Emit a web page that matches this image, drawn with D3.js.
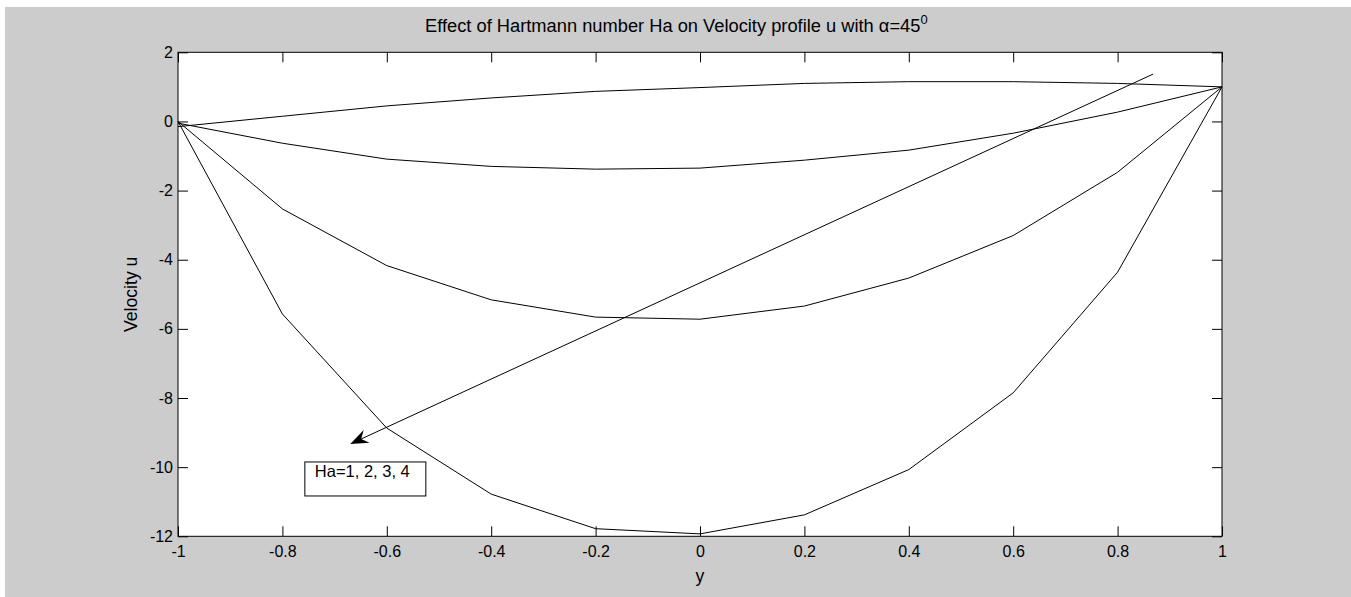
<!DOCTYPE html>
<html>
<head>
<meta charset="utf-8">
<script src="https://cdn.jsdelivr.net/npm/d3@7"></script>
<style>
  body { margin: 0; background: #ffffff; }
  svg { display: block; }
  text { font-family: "Liberation Sans", Arial, Helvetica, sans-serif; fill: #000; }
</style>
</head>
<body>
<script>
// Channel coordinate y and velocity u for Hartmann numbers Ha = 1..4
const yPos  = [-1, -0.8, -0.6, -0.4, -0.2, 0, 0.2, 0.4, 0.6, 0.8, 1];
const uHa1  = [-0.15, 0.15, 0.45, 0.68, 0.87, 0.98, 1.10, 1.15, 1.15, 1.10, 1.0];
const uHa2  = [-0.05, -0.63, -1.09, -1.30, -1.38, -1.35, -1.12, -0.83, -0.34, 0.27, 1.0];
const uHa3  = [0, -2.53, -4.17, -5.16, -5.66, -5.72, -5.34, -4.53, -3.30, -1.47, 1.0];
const uHa4  = [0, -5.57, -8.87, -10.78, -11.78, -11.93, -11.38, -10.07, -7.85, -4.36, 1.0];
const seriesList = [uHa1, uHa2, uHa3, uHa4];

const xTicks = [-1, -0.8, -0.6, -0.4, -0.2, 0, 0.2, 0.4, 0.6, 0.8, 1];
const yTicks = [2, 0, -2, -4, -6, -8, -10, -12];

// Annotation: arrow across the curves and its label box
const arrowFrom = [0.868, 1.37];
const arrowTo   = [-0.670, -9.33];
const noteAt    = [-0.757, -9.85];
const noteText  = "Ha=1, 2, 3, 4";

const W = 1351, H = 597;
const svg = d3.select("body").append("svg").attr("width", W).attr("height", H);

// figure background
svg.append("rect").attr("x", 5).attr("y", 7).attr("width", W - 5).attr("height", H - 7).attr("fill", "#cccccc");

const x = d3.scaleLinear().domain([-1, 1]).range([178, 1222]);
const y = d3.scaleLinear().domain([-12, 2]).range([536.3, 52.3]);

const fsTick = 16;     // tick labels
const fsLabel = 17.6;  // axis labels
const fsTitle = 18.3;  // title

// axes area
svg.append("rect")
  .attr("x", x(-1)).attr("y", y(2))
  .attr("width", x(1) - x(-1)).attr("height", y(-12) - y(2))
  .attr("fill", "#ffffff");

const fmt = d => String(d);

const gBottom = svg.append("g").attr("transform", `translate(0,${y(-12)})`)
  .call(d3.axisBottom(x).tickValues(xTicks).tickFormat(fmt).tickSizeInner(-10).tickSizeOuter(0).tickPadding(9));
const gTop = svg.append("g").attr("transform", `translate(0,${y(2)})`)
  .call(d3.axisTop(x).tickValues(xTicks).tickFormat("").tickSizeInner(-10).tickSizeOuter(0));
const gLeft = svg.append("g").attr("transform", `translate(${x(-1)},0)`)
  .call(d3.axisLeft(y).tickValues(yTicks).tickFormat(fmt).tickSizeInner(-10).tickSizeOuter(0).tickPadding(5));
const gRight = svg.append("g").attr("transform", `translate(${x(1)},0)`)
  .call(d3.axisRight(y).tickValues(yTicks).tickFormat("").tickSizeInner(-10).tickSizeOuter(0));

[gBottom, gTop, gLeft, gRight].forEach(g => {
  g.select(".domain").remove();
  g.selectAll("line").attr("stroke", "#000").attr("stroke-width", 1);
  g.selectAll("text").attr("font-size", fsTick).attr("font-family", null).attr("fill", "#000");
});

// data curves
const line = d3.line().x((d, i) => x(yPos[i])).y(d => y(d));
svg.append("g").selectAll("path").data(seriesList).join("path")
  .attr("d", d => line(d))
  .attr("fill", "none").attr("stroke", "#000").attr("stroke-width", 1);

// axes box
svg.append("rect")
  .attr("x", x(-1)).attr("y", y(2))
  .attr("width", x(1) - x(-1)).attr("height", y(-12) - y(2))
  .attr("fill", "none").attr("stroke", "#000").attr("stroke-width", 1);

// arrow
const ax0 = x(arrowFrom[0]), ay0 = y(arrowFrom[1]);
const ax1 = x(arrowTo[0]), ay1 = y(arrowTo[1]);
const len = Math.hypot(ax1 - ax0, ay1 - ay0);
const ux = (ax1 - ax0) / len, uy = (ay1 - ay0) / len;
const px = -uy, py = ux;
const headL = 18, headW = 7, notch = 12;
svg.append("line")
  .attr("x1", ax0).attr("y1", ay0)
  .attr("x2", ax1 - ux * notch).attr("y2", ay1 - uy * notch)
  .attr("stroke", "#000").attr("stroke-width", 1);
const head = [
  [ax1, ay1],
  [ax1 - ux * headL + px * headW, ay1 - uy * headL + py * headW],
  [ax1 - ux * notch, ay1 - uy * notch],
  [ax1 - ux * headL - px * headW, ay1 - uy * headL - py * headW]
];
svg.append("path").attr("d", "M" + head.map(p => p.join(",")).join("L") + "Z").attr("fill", "#000");

// label box
const bx = x(noteAt[0]), by = y(noteAt[1]);
svg.append("rect").attr("x", bx).attr("y", by).attr("width", 121).attr("height", 34)
  .attr("fill", "#fff").attr("stroke", "#000").attr("stroke-width", 1);
svg.append("text").attr("x", bx + 10).attr("y", by + 15).attr("font-size", 16.5).text(noteText);

// titles
svg.append("text").attr("x", (x(-1) + x(1)) / 2).attr("y", 582).attr("text-anchor", "middle")
  .attr("font-size", fsLabel).text("y");
svg.append("text").attr("transform", `translate(137,${(y(2) + y(-12)) / 2}) rotate(-90)`)
  .attr("text-anchor", "middle").attr("font-size", fsLabel).text("Velocity u");
const title = svg.append("text").attr("x", 425).attr("y", 32)
  .attr("font-size", fsTitle);
title.append("tspan").text("Effect of Hartmann number Ha on Velocity profile u with \u03B1=45");
title.append("tspan").attr("dy", -8).attr("font-size", 13).text("0");
</script>
</body>
</html>
